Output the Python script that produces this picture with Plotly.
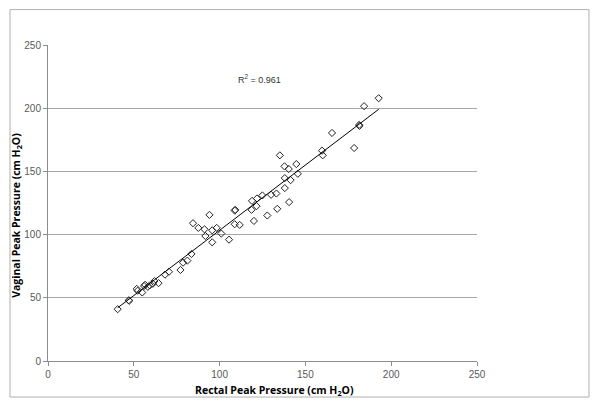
import numpy as np
import plotly.graph_objects as go

# rectal vs vaginal peak pressure
rectal = [40.6, 47.1, 47.3, 51.7, 52.2, 54.9, 56.0, 56.6, 58.2, 59.3, 61.1, 62.0, 64.4,
          68.2, 70.5, 77.2, 78.7, 81.2, 83.6, 84.5, 87.6, 91.2, 91.7, 94.1, 95.7, 95.7,
          98.3, 101.0, 105.5, 108.8, 109.1, 108.8, 111.7, 118.6, 118.9, 120.0, 121.5,
          121.8, 124.9, 127.8, 130.0, 133.1, 133.6, 135.1, 137.8, 138.0, 138.0, 140.3,
          140.5, 141.4, 144.7, 145.6, 159.7, 160.1, 165.5, 178.4, 181.3, 181.5, 184.2, 192.7]
vaginal = [41.0, 48.1, 47.6, 57.1, 55.6, 54.2, 59.3, 60.3, 58.7, 59.8, 61.1, 63.2, 61.6,
           68.3, 70.6, 72.0, 77.8, 79.4, 84.7, 109.0, 105.3, 104.2, 98.9, 115.6, 93.9, 103.4,
           105.3, 100.8, 96.0, 119.0, 119.6, 108.2, 107.7, 119.6, 126.7, 110.8, 122.5,
           128.6, 131.0, 115.1, 131.5, 132.5, 120.4, 162.7, 154.0, 144.7, 136.8, 151.9,
           125.7, 143.1, 155.8, 148.1, 166.4, 162.7, 180.4, 168.5, 186.8, 186.0, 201.6, 207.9]
r2_label = "R<sup>2</sup> = 0.961"
x_title = "<b>Rectal Peak Pressure (cm H<sub>2</sub>O)</b>"
y_title = "<b>Vaginal Peak Pressure (cm H<sub>2</sub>O)</b>"

slope, intercept = np.polyfit(rectal, vaginal, 1)
fit_x = [min(rectal), max(rectal)]
fit_y = [slope * v + intercept for v in fit_x]

tick_font = dict(family="Liberation Sans, Arial", size=10, color="#595959")
title_font = dict(family="Open Sans, Liberation Sans", size=10.5, color="black")

fig = go.Figure([
    go.Scatter(x=rectal, y=vaginal, mode="markers",
               marker=dict(symbol="diamond-open", size=5.5, color="#222222",
                           line=dict(width=1, color="#222222"))),
    go.Scatter(x=fit_x, y=fit_y, mode="lines", line=dict(color="black", width=1)),
])

fig.add_annotation(x=123.5, y=223, text=r2_label, showarrow=False,
                   font=dict(family="Liberation Sans, Arial", size=9, color="#333333"))
# axis titles as annotations so they can sit where the original put them
fig.add_annotation(xref="paper", yref="paper", x=0.527, y=-0.092, text=x_title,
                   showarrow=False, font=title_font, yanchor="middle")
fig.add_annotation(xref="paper", yref="paper", x=-0.075, y=0.462, text=y_title,
                   showarrow=False, font=title_font, textangle=-90, xanchor="center")

# page body has an 8px default margin, so the margins are offset to compensate
fig.update_layout(
    width=600, height=408,
    showlegend=False,
    plot_bgcolor="white", paper_bgcolor="white",
    margin=dict(l=40, r=131, t=37, b=55),
    xaxis=dict(range=[0, 250], tickvals=[0, 50, 100, 150, 200, 250], showgrid=False,
               showline=True, linecolor="#8c8c8c", linewidth=1, ticks="outside",
               ticklen=4, tickcolor="#8c8c8c", tickfont=tick_font, zeroline=False,
               automargin=False),
    yaxis=dict(range=[0, 250], tickvals=[0, 50, 100, 150, 200, 250], showgrid=True,
               gridcolor="#a6a6a6", gridwidth=1, showline=True, linecolor="#8c8c8c",
               ticks="outside", ticklen=4, tickcolor="#8c8c8c", tickfont=tick_font,
               zeroline=False, automargin=False),
)

# light frame around the whole chart
fig.add_shape(type="rect", xref="paper", yref="paper", x0=-0.0886, x1=1.261,
              y0=-0.114, y1=1.112, line=dict(color="#b0b0b0", width=1))

fig.write_html("out.html")
